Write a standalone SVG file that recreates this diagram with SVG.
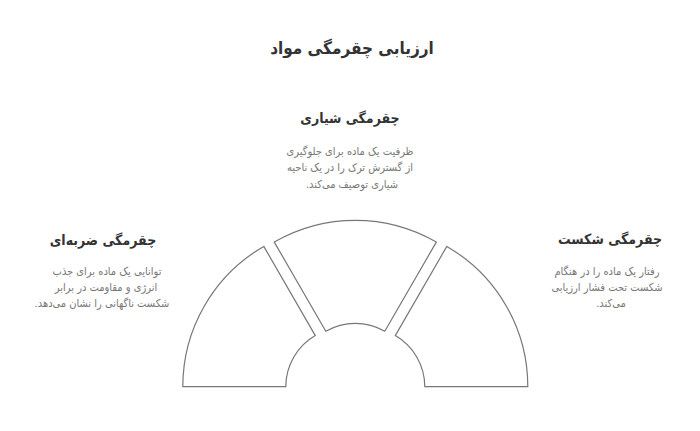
<svg xmlns="http://www.w3.org/2000/svg" width="700" height="431" viewBox="0 0 700 431">
<style>
text{font-family:"DejaVu Sans Condensed","DejaVu Sans",sans-serif;direction:rtl;text-anchor:middle}
.title{font-size:17px;font-weight:bold;fill:#333}
.head{font-size:14px;font-weight:bold;fill:#333}
.body{font-size:11px;fill:#777}
.seg{fill:#fff;stroke:#777;stroke-width:1.2;stroke-linejoin:miter}
</style>
<rect width="700" height="431" fill="#fff"/>
<text class="title" x="352" y="54">ارزیابی چقرمگی مواد</text>
<g id="segments">
<path id="seg-left" class="seg" transform="translate(344.8,386.7)" d="M-162 0A162 162 0 0 1 -81 -140.3L-29.5 -51.1A59 59 0 0 0 -59 0Z"/>
<path id="seg-mid" class="seg" transform="translate(355.3,382.4)" d="M-81 -140.3A162 162 0 0 1 81 -140.3L29.5 -51.1A59 59 0 0 0 -29.5 -51.1Z"/>
<path id="seg-right" class="seg" transform="translate(365.8,386.7)" d="M81 -140.3A162 162 0 0 1 162 0L59 0A59 59 0 0 0 29.5 -51.1Z"/>
</g>
<g id="node-notch">
<text class="head" x="350" y="123">چقرمگی شیاری</text>
<text class="body" x="350" y="155">ظرفیت یک ماده برای جلوگیری</text>
<text class="body" x="350" y="171">از گسترش ترک را در یک ناحیه</text>
<text class="body" x="352" y="188">شیاری توصیف می‌کند.</text>
</g>
<g id="node-impact">
<text class="head" x="103" y="245">چقرمگی ضربه‌ای</text>
<text class="body" x="107" y="275">توانایی یک ماده برای جذب</text>
<text class="body" x="106" y="291">انرژی و مقاومت در برابر</text>
<text class="body" x="102" y="307">شکست ناگهانی را نشان می‌دهد.</text>
</g>
<g id="node-fracture">
<text class="head" x="610" y="244">چقرمگی شکست</text>
<text class="body" x="607" y="275">رفتار یک ماده را در هنگام</text>
<text class="body" x="607" y="291">شکست تحت فشار ارزیابی</text>
<text class="body" x="611" y="307">می‌کند.</text>
</g>
</svg>
